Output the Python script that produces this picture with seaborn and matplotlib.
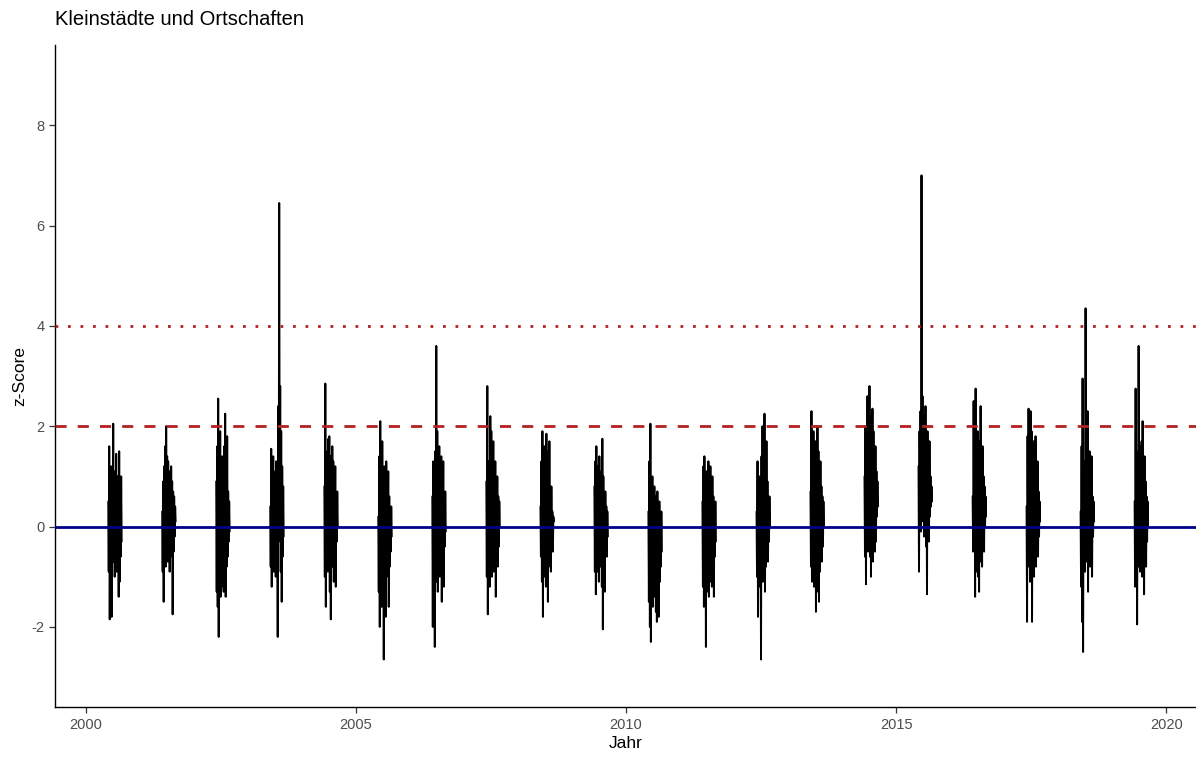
import numpy as np
import pandas as pd
import matplotlib
matplotlib.use("Agg")
import matplotlib.pyplot as plt
import seaborn as sns

# Daily z-scores over the summer months (June to August), one list per year
years = list(range(2000, 2020))
z_2000 = [0.5, -0.9, 1.6, -1.85, 0.4, -0.8, 1.2, -1.8, 0.9, -0.6, 2.05, -0.7, 1.1, -1.0,
          0.8, -0.5, 1.45, -0.9, 1.0, -0.8, 0.6, -1.4, 1.5, -1.1, 0.4, -0.6, 1.0, -0.3]
z_2001 = [0.3, -0.9, 0.9, -1.5, 1.2, -0.6, 1.6, -0.8, 2.0, -0.5, 1.4, -0.7, 1.3, -0.4,
          1.1, -0.9, 0.8, -0.6, 1.2, -0.3, 0.9, -1.75, 0.7, -0.5, 0.6, -0.2, 0.4, 0.1]
z_2002 = [0.9, -1.3, 1.6, -1.6, 2.55, -2.2, 1.2, -1.0, 1.9, -1.4, 0.8, -1.2, 1.4, -0.9,
          1.0, -1.3, 1.6, -0.7, 2.25, -1.4, 1.1, -0.8, 1.8, -0.6, 0.7, -0.3, 0.5, -0.1]
z_2003 = [0.4, -0.8, 1.55, -1.2, 0.9, -0.6, 1.4, -0.9, 0.7, -0.5, 1.1, -1.0, 1.3, -0.7,
          0.8, -2.2, 2.4, -0.3, 6.45, 0.2, 2.8, -0.9, 1.9, -1.5, 1.2, -0.6, 0.8, -0.2]
z_2004 = [0.8, -1.0, 2.85, -1.6, 1.2, -0.7, 1.5, -0.9, 1.75, -0.5, 1.8, -1.3, 1.4, -1.85,
          1.0, -0.6, 1.6, -0.8, 1.3, -1.1, 0.9, -0.4, 1.2, -1.2, 0.6, -0.3, 0.7, 0.0]
z_2005 = [0.2, -1.3, 1.4, -2.0, 2.1, -1.1, 0.6, -1.6, 1.7, -0.9, 0.8, -2.65, 1.2, -1.4,
          0.5, -1.8, 1.3, -1.0, 0.9, -0.7, 1.1, -1.6, 0.6, -0.8, 0.3, -0.5, 0.4, -0.2]
z_2006 = [0.6, -2.0, 1.3, -1.2, 0.9, -2.4, 1.5, -0.8, 3.6, -1.1, 1.9, -1.3, 1.2, -0.6,
          1.6, -1.0, 0.8, -0.9, 1.4, -1.5, 1.1, -0.7, 1.3, -1.2, 0.5, -0.4, 0.7, -0.1]
z_2007 = [0.9, -1.0, 2.8, -1.75, 1.3, -0.8, 1.0, -1.2, 2.2, -0.6, 1.9, -1.0, 1.5, -0.7,
          1.7, -0.9, 1.1, -0.5, 1.3, -1.4, 0.8, -0.6, 1.0, -0.8, 0.6, -0.4, 0.5, 0.0]
z_2008 = [0.4, -0.6, 1.3, -1.1, 1.9, -1.8, 1.0, -0.5, 1.6, -1.0, 0.7, -1.2, 1.85, -0.4,
          1.5, -1.5, 0.9, -0.8, 1.7, -0.6, 0.5, -0.9, 0.8, -0.3, 0.3, -0.5, 0.2, 0.1]
z_2009 = [0.8, -0.9, 1.3, -1.35, 1.6, -0.6, 1.2, -0.9, 1.0, -1.1, 1.4, -0.5, 0.9, -0.8,
          1.1, -1.2, 1.75, -2.05, 1.0, -0.7, 0.6, -1.3, 0.7, -0.5, 0.4, -0.6, 0.3, -0.2]
z_2010 = [0.3, -1.5, 1.3, -2.0, 2.05, -2.3, 0.7, -1.2, 1.0, -1.6, 0.5, -1.0, 0.8, -1.4,
          0.6, -1.7, 0.4, -1.9, 0.7, -1.3, 0.2, -1.8, 0.5, -1.1, 0.1, -0.8, 0.3, -0.5]
z_2011 = [0.5, -1.2, 1.2, -1.6, 1.4, -0.9, 1.0, -2.4, 1.1, -1.3, 0.8, -1.0, 1.3, -1.4,
          0.9, -0.7, 1.2, -1.1, 0.7, -1.2, 1.0, -0.8, 0.6, -1.4, 0.4, -0.6, 0.5, -0.3]
z_2012 = [0.3, -1.0, 1.3, -1.8, 0.6, -0.7, 1.0, -1.2, 0.8, -2.65, 1.4, -0.9, 2.0, -1.1,
          1.6, -0.6, 2.25, -1.3, 1.1, -0.8, 1.7, -0.5, 0.9, -0.7, 0.5, -0.3, 0.6, 0.0]
z_2013 = [0.7, -0.8, 2.3, -1.1, 1.6, -0.7, 1.9, -1.2, 1.4, -0.9, 1.7, -1.7, 1.2, -1.3,
          2.0, -0.6, 1.5, -1.5, 1.0, -0.9, 1.3, -0.5, 0.8, -0.7, 0.6, -0.4, 0.5, 0.0]
z_2014 = [1.0, -0.6, 2.0, -1.15, 1.5, -0.3, 2.6, -0.5, 1.8, -0.2, 2.8, -0.6, 2.2, -1.0,
          1.7, -0.4, 2.35, -0.7, 1.9, -0.2, 1.4, -0.5, 1.6, -0.3, 1.1, 0.2, 0.9, 0.4]
z_2015 = [1.2, -0.9, 1.9, 0.2, 2.3, -0.1, 7.0, 0.4, 2.6, 0.1, 2.2, -0.2, 1.8, 0.3,
          2.4, -0.4, 1.6, -1.35, 1.9, 0.0, 1.4, -0.3, 1.7, 0.2, 1.0, 0.4, 0.8, 0.5]
z_2016 = [0.6, -0.5, 2.5, -0.3, 1.6, -1.4, 2.75, -0.9, 1.8, -0.6, 1.9, -1.0, 1.5, -1.3,
          1.7, -0.7, 2.4, -0.4, 1.3, -0.8, 1.6, -0.2, 1.0, -0.5, 0.8, 0.0, 0.6, 0.2]
z_2017 = [0.4, -1.9, 1.8, -0.8, 2.35, -0.6, 1.5, -1.1, 2.3, -0.9, 1.9, -1.9, 1.4, -0.7,
          1.7, -1.0, 1.2, -0.5, 1.8, -0.8, 1.0, -0.4, 1.3, -0.6, 0.7, -0.2, 0.5, 0.1]
z_2018 = [0.3, -1.2, 1.6, -1.9, 2.95, -2.5, 0.8, -0.6, 1.3, -0.9, 4.35, -0.3, 1.4, -0.7,
          2.3, -1.3, 1.2, -0.5, 1.5, -0.8, 1.0, -0.4, 1.4, -1.0, 0.6, -0.2, 0.5, 0.1]
z_2019 = [0.5, -1.2, 2.75, -0.6, 1.5, -1.95, 1.2, -0.8, 3.6, -0.5, 1.6, -0.9, 1.3, -0.4,
          1.7, -1.0, 2.1, -0.7, 1.1, -1.35, 1.4, -0.5, 0.9, -0.8, 0.6, -0.3, 0.5, 0.0]
z_by_year = [z_2000, z_2001, z_2002, z_2003, z_2004, z_2005, z_2006, z_2007, z_2008, z_2009,
             z_2010, z_2011, z_2012, z_2013, z_2014, z_2015, z_2016, z_2017, z_2018, z_2019]

x_ticks = [2000, 2005, 2010, 2015, 2020]
y_ticks = [-2, 0, 2, 4, 6, 8]
ref_levels = [0, 2, 4]

# Long table: decimal year vs. z-score, one group per summer
rows = []
for yr, vals in zip(years, z_by_year):
    dates = pd.date_range(f"{yr}-06-01", f"{yr}-08-31", periods=len(vals))
    doy = dates.dayofyear.values - 1 + dates.hour.values / 24.0
    dec = yr + doy / (366 if yr % 4 == 0 else 365)
    for d, v in zip(dec, vals):
        rows.append({"Jahr": d, "z": v, "Sommer": yr})
df = pd.DataFrame(rows)

sns.set_theme(style="ticks")
plt.rcParams["font.family"] = ["Liberation Sans", "DejaVu Sans"]

fig = plt.figure(figsize=(11.96, 7.62), dpi=100)
ax = fig.add_axes([0.046, 0.072, 0.954, 0.869])

sns.lineplot(data=df, x="Jahr", y="z", units="Sommer", estimator=None,
             color="black", linewidth=1.4, ax=ax, legend=False)

ax.axhline(ref_levels[0], color="#00008B", linewidth=2.0, zorder=3)
ax.axhline(ref_levels[1], color="#B22222", linewidth=2.0, linestyle=(0, (4, 4)), zorder=3)
ax.axhline(ref_levels[2], color="#B22222", linewidth=2.0, linestyle=(0, (1, 3.5)), zorder=3)

ax.set_xlim(1999.43, 2020.55)
ax.set_ylim(-3.6, 9.6)
ax.set_xticks(x_ticks)
ax.set_yticks(y_ticks)
ax.set_xticklabels([str(t) for t in x_ticks])
ax.set_yticklabels([str(t) for t in y_ticks])

for side in ("top", "right"):
    ax.spines[side].set_visible(False)
for side in ("left", "bottom"):
    ax.spines[side].set_color("black")
    ax.spines[side].set_linewidth(1.0)
ax.tick_params(axis="both", colors="#333333", labelcolor="#4D4D4D",
               labelsize=10.5, length=4, width=0.9)
ax.grid(False)

ax.set_xlabel("Jahr", fontsize=12.5, color="black", labelpad=3)
ax.set_ylabel("z-Score", fontsize=12.5, color="black", labelpad=3)
fig.text(0.046, 0.974, "Kleinstädte und Ortschaften", fontsize=14.5,
         color="black", ha="left", va="center")

fig.savefig("out.png", dpi=100)
